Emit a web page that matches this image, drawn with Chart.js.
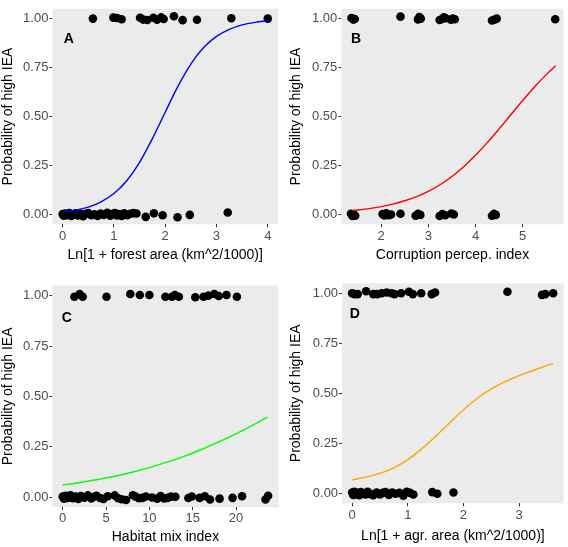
<!DOCTYPE html>
<html><head><meta charset="utf-8">
<script src="https://cdn.jsdelivr.net/npm/chart.js@4.4.1/dist/chart.umd.min.js"></script>
<style>
html,body{margin:0;padding:0;background:#fff;}
#wrap{position:relative;width:568px;height:547px;}
canvas{position:absolute;}
</style></head><body>
<div id="wrap">
<canvas id="cA" width="284" height="270" style="left:0;top:0"></canvas>
<canvas id="cB" width="284" height="270" style="left:284px;top:0"></canvas>
<canvas id="cC" width="284" height="277" style="left:0;top:270px"></canvas>
<canvas id="cD" width="284" height="277" style="left:284px;top:270px"></canvas>
</div>
<script>
// ---------- data ----------
const yTicks = [0, 0.25, 0.5, 0.75, 1];

const aXTicks = [0, 1, 2, 3, 4];
const aTopX = [0.59, 0.99, 1.06, 1.15, 1.51, 1.57, 1.65, 1.77, 1.84, 1.92, 1.97, 2.17, 2.34, 2.62, 3.29, 4.0];
const aTopY = [1.0, 1.005, 1.003, 0.997, 1.004, 0.995, 0.993, 1.004, 0.994, 1.006, 0.998, 1.012, 0.992, 0.994, 1.002, 1.0];
const aBotX = [0.0, 0.02, 0.05, 0.09, 0.13, 0.17, 0.21, 0.25, 0.3, 0.35, 0.4, 0.45, 0.5, 0.56, 0.62, 0.68, 0.74, 0.8, 0.87, 0.93, 0.98, 1.02, 1.06, 1.1, 1.15, 1.2, 1.26, 1.32, 1.38, 1.44, 1.62, 1.78, 1.95, 2.24, 2.48, 3.22];
const aBotY = [0.002, -0.006, 0.005, -0.003, 0.008, -0.008, 0.0, 0.006, -0.005, 0.003, -0.009, 0.004, 0.007, -0.004, 0.001, -0.007, 0.005, -0.002, 0.009, -0.006, 0.003, 0.008, -0.005, 0.002, -0.008, 0.006, -0.003, 0.004, 0.007, 0.005, -0.012, 0.006, -0.004, -0.014, -0.002, 0.01];
const aCurveX = [0, 0.25, 0.5, 0.75, 1, 1.25, 1.5, 1.75, 2, 2.25, 2.5, 2.75, 3, 3.25, 3.5, 3.75, 4];
const aCurveY = [0.013, 0.022, 0.038, 0.065, 0.107, 0.172, 0.266, 0.387, 0.522, 0.655, 0.768, 0.852, 0.909, 0.945, 0.968, 0.981, 0.989];

const bXTicks = [2, 3, 4, 5];
const bTopX = [1.37, 1.41, 1.44, 2.41, 2.78, 2.81, 2.84, 3.24, 3.29, 3.33, 3.37, 3.48, 3.52, 3.56, 4.35, 4.41, 4.45, 5.69];
const bTopY = [1.003, 0.995, 0.998, 1.01, 0.996, 1.008, 1.0, 0.993, 0.998, 1.006, 1.002, 0.994, 1.0, 0.997, 0.99, 0.995, 1.0, 0.997];
const bBotX = [1.36, 1.39, 1.42, 1.45, 2.03, 2.07, 2.11, 2.16, 2.21, 2.41, 2.73, 2.78, 2.83, 3.24, 3.3, 3.36, 3.49, 3.54, 4.35, 4.39, 4.43];
const bBotY = [0.004, -0.008, 0.0, -0.006, 0.002, -0.005, 0.006, -0.003, 0.0, 0.004, -0.006, 0.003, -0.002, -0.008, 0.002, -0.004, 0.005, 0.0, -0.006, 0.003, -0.002];
const bCurveX = [1.39, 1.75, 2, 2.25, 2.5, 2.75, 3, 3.25, 3.5, 3.75, 4, 4.25, 4.5, 4.75, 5, 5.25, 5.5, 5.7];
const bCurveY = [0.020, 0.030, 0.040, 0.053, 0.070, 0.091, 0.118, 0.152, 0.194, 0.244, 0.302, 0.367, 0.437, 0.509, 0.582, 0.651, 0.714, 0.759];

const cXTicks = [0, 5, 10, 15, 20];
const cTopX = [1.35, 1.95, 2.3, 5.05, 7.8, 8.9, 10.0, 11.85, 12.6, 12.95, 13.4, 15.3, 16.25, 16.8, 17.5, 18.0, 18.9, 20.1];
const cTopY = [0.995, 1.008, 0.995, 0.995, 1.008, 1.003, 1.003, 0.995, 0.995, 1.003, 0.995, 0.992, 0.995, 1.0, 1.008, 0.998, 1.003, 0.995];
const cBotX = [0.0, 0.15, 0.35, 0.6, 0.9, 1.2, 1.5, 1.8, 2.1, 2.5, 2.9, 3.3, 3.6, 3.9, 4.3, 4.7, 5.2, 6.0, 6.4, 6.8, 7.3, 8.1, 8.4, 8.8, 9.2, 9.6, 10.3, 10.9, 11.3, 11.7, 12.1, 12.5, 13.0, 14.5, 14.9, 15.8, 16.4, 17.0, 18.1, 19.6, 20.7, 23.4, 23.7];
const cBotY = [0.003, -0.008, 0.006, -0.004, 0.009, -0.006, 0.002, -0.01, 0.005, -0.003, 0.008, -0.007, 0.001, 0.006, -0.005, -0.009, 0.004, 0.008, -0.006, -0.011, -0.015, 0.009, 0.002, -0.006, -0.004, 0.003, -0.002, -0.008, 0.005, -0.007, -0.004, 0.002, 0.001, -0.005, 0.003, -0.004, 0.004, -0.012, -0.008, -0.004, 0.004, -0.012, 0.006];
const cCurveX = [0, 2, 4, 6, 8, 10, 12, 14, 16, 18, 20, 22, 23.65];
const cCurveY = [0.060, 0.072, 0.087, 0.103, 0.123, 0.146, 0.173, 0.202, 0.236, 0.274, 0.314, 0.358, 0.397];

const dXTicks = [0, 1, 2, 3];
const dTopX = [0.0, 0.04, 0.1, 0.25, 0.38, 0.45, 0.53, 0.62, 0.71, 0.76, 0.88, 1.02, 1.09, 1.24, 1.43, 1.49, 2.79, 3.41, 3.47, 3.61];
const dTopY = [1.0, 0.996, 0.996, 1.01, 0.996, 0.996, 1.0, 1.004, 1.0, 0.996, 1.0, 1.008, 0.996, 1.0, 0.996, 1.004, 1.008, 0.992, 0.996, 1.0];
const dBotX = [0.0, 0.02, 0.04, 0.07, 0.1, 0.13, 0.16, 0.2, 0.24, 0.28, 0.33, 0.38, 0.44, 0.5, 0.55, 0.6, 0.66, 0.72, 0.78, 0.85, 0.92, 0.98, 1.04, 1.1, 1.44, 1.53, 1.82];
const dBotY = [0.004, -0.008, 0.008, -0.004, 0.002, -0.01, 0.006, 0.0, -0.006, 0.008, -0.004, -0.01, 0.004, -0.006, 0.002, 0.006, -0.008, 0.004, -0.002, 0.002, -0.012, 0.008, 0.002, -0.006, 0.006, -0.002, 0.004];
const dCurveX = [0, 0.25, 0.5, 0.75, 1, 1.25, 1.5, 1.75, 2, 2.25, 2.5, 2.75, 3, 3.25, 3.61];
const dCurveY = [0.067, 0.081, 0.100, 0.127, 0.168, 0.222, 0.285, 0.352, 0.418, 0.475, 0.522, 0.558, 0.588, 0.614, 0.650];

// ---------- helpers ----------
const FONT = "'Liberation Sans', Arial, Helvetica, sans-serif";
const zip = (xs, ys) => xs.map((x, i) => ({x: x, y: ys[i]}));

const bgPlugin = {
  id: 'panelBg',
  beforeDraw(chart) {
    const a = chart.chartArea, ctx = chart.ctx;
    ctx.save();
    ctx.fillStyle = '#EBEBEB';
    ctx.fillRect(a.left, a.top, a.right - a.left, a.bottom - a.top);
    ctx.restore();
  }
};
const letterPlugin = {
  id: 'panelLetter',
  afterDatasetsDraw(chart, args, opts) {
    const ctx = chart.ctx;
    const px = chart.scales.x.getPixelForValue(opts.x);
    const py = chart.scales.y.getPixelForValue(opts.y);
    ctx.save();
    ctx.font = 'bold 14px ' + FONT;
    ctx.fillStyle = '#000';
    ctx.textAlign = 'center';
    ctx.textBaseline = 'middle';
    ctx.fillText(opts.text, px, py + 1);
    ctx.restore();
  }
};

function makePanel(id, p) {
  const W = p.W, H = p.H;
  new Chart(document.getElementById(id), {
    type: 'scatter',
    data: {
      datasets: [
        {
          type: 'line',
          data: zip(p.cx, p.cy),
          borderColor: p.color,
          borderWidth: 1.4,
          pointRadius: 0,
          fill: false,
          cubicInterpolationMode: 'monotone',
          clip: false
        },
        {
          data: zip(p.tx, p.ty).concat(zip(p.bx, p.by)),
          backgroundColor: '#000',
          borderWidth: 0,
          pointRadius: 4.3,
          clip: false
        }
      ]
    },
    plugins: [bgPlugin, letterPlugin],
    options: {
      responsive: false,
      animation: false,
      devicePixelRatio: 1,
      layout: { padding: { left: p.pl, right: W - p.R, top: p.T, bottom: p.pb } },
      plugins: {
        legend: { display: false },
        tooltip: { enabled: false },
        panelLetter: { text: p.letter, x: p.lx, y: p.ly }
      },
      scales: {
        x: {
          type: 'linear',
          min: p.xmin, max: p.xmax,
          afterBuildTicks: s => { s.ticks = p.xt.map(v => ({value: v})); },
          afterFit: s => { s.height = H - p.pb - p.B; },
          border: { display: false },
          grid: { drawOnChartArea: false, drawTicks: true, tickLength: 3, color: '#333333', lineWidth: 1 },
          ticks: { color: '#4D4D4D', font: { family: FONT, size: 13 }, padding: 1, maxRotation: 0, autoSkip: false,
                   callback: v => String(v) },
          title: { display: true, text: p.xtitle, color: '#000', font: { family: FONT, size: 14 }, padding: 0 }
        },
        y: {
          type: 'linear',
          min: -0.05, max: 1.05,
          afterBuildTicks: s => { s.ticks = yTicks.map(v => ({value: v})); },
          afterFit: s => { s.width = p.L - p.pl; },
          border: { display: false },
          grid: { drawOnChartArea: false, drawTicks: true, tickLength: 3, color: '#333333', lineWidth: 1 },
          ticks: { color: '#4D4D4D', font: { family: FONT, size: 13 }, padding: 1,
                   callback: v => Number(v).toFixed(2) },
          title: { display: true, text: 'Probability of high IEA', color: '#000', font: { family: FONT, size: 14 }, padding: 0 }
        }
      }
    }
  });
}

makePanel('cA', { W: 284, H: 270, pl: 0, pb: 6.6, L: 52.4, R: 278, T: 4, B: 224.3,
  xmin: -0.2, xmax: 4.2, xt: aXTicks, xtitle: 'Ln[1 + forest area (km^2/1000)]',
  tx: aTopX, ty: aTopY, bx: aBotX, by: aBotY, cx: aCurveX, cy: aCurveY, color: '#0000FF',
  letter: 'A', lx: 0.12, ly: 0.90 });

makePanel('cB', { W: 284, H: 270, pl: 3.6, pb: 6.6, L: 57.3, R: 280, T: 4, B: 224.3,
  xmin: 1.155, xmax: 5.87, xt: bXTicks, xtitle: 'Corruption percep. index',
  tx: bTopX, ty: bTopY, bx: bBotX, by: bBotY, cx: bCurveX, cy: bCurveY, color: '#FF0000',
  letter: 'B', lx: 1.47, ly: 0.90 });

makePanel('cC', { W: 284, H: 277, pl: 0, pb: 1.1, L: 52.4, R: 278.5, T: 15.6, B: 237.1,
  xmin: -1.19, xmax: 24.9, xt: cXTicks, xtitle: 'Habitat mix index',
  tx: cTopX, ty: cTopY, bx: cBotX, by: cBotY, cx: cCurveX, cy: cCurveY, color: '#00FF00',
  letter: 'C', lx: 0.46, ly: 0.894 });

makePanel('cD', { W: 284, H: 277, pl: 3.6, pb: 2.8, L: 58.1, R: 283.6, T: 13.3, B: 233.3,
  xmin: -0.18, xmax: 3.8, xt: dXTicks, xtitle: 'Ln[1 + agr. area (km^2/1000)]',
  tx: dTopX, ty: dTopY, bx: dBotX, by: dBotY, cx: dCurveX, cy: dCurveY, color: '#FFA500',
  letter: 'D', lx: 0.05, ly: 0.90 });
</script>
</body></html>
